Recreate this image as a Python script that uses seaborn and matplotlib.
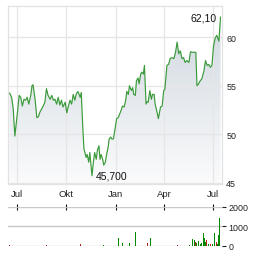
import numpy as np
import pandas as pd
import matplotlib
matplotlib.use("Agg")
import matplotlib.pyplot as plt
import matplotlib.dates as mdates
from matplotlib.colors import LinearSegmentedColormap
from matplotlib.patches import Polygon
import seaborn as sns

# ---- data (days counted from 2023-07-01) ----
price_day = [-14, -10, -7, -4, 1, 4, 7, 10, 13, 16, 19, 22, 26, 28, 30, 34, 37, 40, 43, 46,
             49, 52, 55, 58, 62, 65, 68, 71, 74, 77, 80, 83, 86, 90, 93, 96, 99, 102, 105, 108,
             111, 114, 118, 120, 123, 125, 129, 131, 134, 136, 138, 140, 143, 145, 148, 150, 153, 155, 157, 160,
             162, 165, 167, 170, 172, 175, 177, 180, 183, 186, 189, 194, 197, 200, 203, 205, 208, 210, 212, 214,
             216, 218, 221, 223, 226, 228, 231, 233, 236, 238, 241, 243, 245, 248, 251, 253, 256, 258, 261, 264,
             266, 268, 271, 274, 276, 280, 283, 286, 289, 293, 296, 299, 302, 305, 308, 311, 314, 317, 321, 324,
             327, 332, 334, 336, 339, 342, 345, 349, 352, 355, 358, 361, 364, 367, 370, 373, 377, 380]
price = [54.25, 53.8, 52.6, 49.8, 52.3, 54.0, 53.8, 52.9, 53.6, 53.5, 53.8, 53.1, 54.1, 55.0, 55.1, 53.5, 51.7, 51.8, 52.3, 52.6,
         52.9, 53.3, 54.7, 54.0, 53.6, 54.0, 53.5, 53.6, 53.1, 53.8, 53.0, 53.5, 52.8, 53.3, 52.2, 52.9, 53.5, 53.1, 54.1, 53.5,
         54.2, 54.4, 53.8, 54.3, 50.5, 48.5, 47.6, 47.9, 47.1, 48.1, 46.9, 45.7, 47.25, 48.1, 47.4, 48.3, 48.8, 47.4, 47.9, 47.4,
         46.8, 47.1, 47.8, 48.6, 49.5, 49.7, 49.5, 49.5, 50.5, 51.6, 51.7, 52.4, 52.9, 52.8, 53.5, 54.4, 54.1, 55.0, 54.7, 54.5,
         54.8, 54.1, 54.0, 55.5, 55.8, 55.2, 56.2, 56.4, 56.2, 57.1, 53.1, 53.35, 53.3, 54.5, 53.6, 54.1, 54.1, 53.1, 52.4, 51.6,
         52.2, 52.8, 52.9, 54.5, 54.6, 57.1, 57.2, 57.8, 57.9, 57.8, 58.45, 59.5, 58.3, 58.6, 57.8, 57.9, 57.4, 57.6, 57.4, 58.5,
         58.45, 58.45, 58.45, 55.0, 55.2, 55.5, 55.7, 56.5, 57.6, 57.1, 57.2, 56.9, 57.1, 59.1, 59.9, 60.2, 59.6, 62.1]

vol_day = [-14, 55, 119, 161, 189, 197, 210, 221, 243, 250, 299, 322, 328, 331, 333, 336, 339, 342,
           345, 348, 350, 352, 354, 357, 362, 365, 368, 372, 374, 376, 379]
volume = [50, 60, 100, 40, 400, 170, 170, 700, 140, 400, 40, 50, 350, 300, 220, 140, 260, 80,
          140, 640, 430, 200, 290, 80, 80, 120, 640, 200, 80, 550, 1400]
vol_up = [0, 0, 0, 1, 1, 1, 1, 1, 0, 1, 0, 1, 1, 1, 0, 1, 1, 1,
          1, 1, 1, 1, 0, 1, 0, 1, 1, 0, 1, 1, 1]

month_ticks = ["2023-07-01", "2023-10-01", "2024-01-01", "2024-04-01", "2024-07-01"]
month_labels = ["Jul", "Okt", "Jan", "Apr", "Jul"]
price_ticks = [45, 50, 55, 60]
vol_ticks = [0, 1000, 2000]
high_label = "62,10"
low_label = "45,700"

# ---- style ----
sns.set_theme(style="white")
plt.rcParams['font.family'] = ['Liberation Sans', 'DejaVu Sans']

fig = plt.figure(figsize=(2.64, 2.55), dpi=100)
W, H = 264, 255
ax = fig.add_axes([8 / W, 1 - 185 / H, 214 / W, 178 / H])
vax = fig.add_axes([8 / W, 1 - 247 / H, 214 / W, 39.5 / H])

start = pd.Timestamp("2023-07-01")
df = pd.DataFrame({"date": start + pd.to_timedelta(price_day, unit="D"), "price": price})
vdf = pd.DataFrame({"date": start + pd.to_timedelta(vol_day, unit="D"), "volume": volume, "up": vol_up})
x0 = start - pd.Timedelta(days=16.8)
x1 = start + pd.Timedelta(days=382.8)
ylo, yhi = 44.85, 63.23

line_color = "#3a9a3a"
sns.lineplot(data=df, x="date", y="price", ax=ax, color=line_color, linewidth=0.85, zorder=3)

# gradient fill under the line
n0, n1 = mdates.date2num(x0), mdates.date2num(x1)
cmap = LinearSegmentedColormap.from_list("fillgrad", ["#fbfbfc", "#cdd6de"])
grad = np.linspace(1, 0, 256).reshape(-1, 1)
im = ax.imshow(grad, cmap=cmap, vmin=0, vmax=1, aspect="auto",
               extent=[n0, n1, ylo, yhi], origin="upper", zorder=1)
xs = mdates.date2num(df["date"])
verts = np.column_stack([np.r_[xs[0], xs, xs[-1]], np.r_[ylo, df["price"].values, ylo]])
poly = Polygon(verts, closed=True, facecolor="none", edgecolor="none", transform=ax.transData)
ax.add_patch(poly)
im.set_clip_path(poly)

ax.set_xlim(x0, x1)
ax.set_ylim(ylo, yhi)
ax.set_xticks(pd.to_datetime(month_ticks))
ax.set_xticklabels([])
ax.set_yticks(price_ticks)
ax.yaxis.tick_right()
ax.tick_params(axis="y", length=0, pad=3, labelsize=6.4, labelcolor="#222222")
ax.tick_params(axis="x", length=0)
ax.grid(True, color="#e6e6e6", linewidth=0.9)
ax.set_axisbelow("line")
for s in ax.spines.values():
    s.set_color("#e2e2e2")
    s.set_linewidth(0.9)
ax.set_xlabel("")
ax.set_ylabel("")

ax.annotate(high_label, xy=(df["date"].iloc[-1], price[-1]), xytext=(-4, -0.5),
            textcoords="offset pixels", ha="right", va="center", fontsize=7.5, color="#111111")
imin = int(np.argmin(price))
ax.annotate(low_label, xy=(df["date"].iloc[imin], price[imin]), xytext=(4, 0),
            textcoords="offset pixels", ha="left", va="center", fontsize=7.5, color="#111111")

# volume panel
colors = ["#008a00" if u else "#b82020" for u in vdf["up"]]
vax.bar(vdf["date"], vdf["volume"], width=1.9, color=colors, linewidth=0, zorder=3, antialiased=False)
vax.set_xlim(x0, x1)
vax.set_ylim(0, 2000)
vax.set_yticks(vol_ticks)
vax.yaxis.tick_right()
vax.tick_params(axis="y", length=3, width=0.8, color="#222222", direction="out", pad=1.5,
                labelsize=6.4, labelcolor="#222222", right=True)
vax.set_xticks(pd.to_datetime(month_ticks))
vax.set_xticklabels(month_labels)
vax.xaxis.tick_top()
vax.tick_params(axis="x", top=True, bottom=False, direction="inout", length=4, width=0.8,
                color="#111111", labelsize=6.8, labelcolor="#222222", pad=4)
vax.grid(True, axis="y", color="#c8c8c8", linewidth=1.0)
vax.grid(False, axis="x")
vax.set_axisbelow(True)
for s in vax.spines.values():
    s.set_visible(False)
vax.set_facecolor("none")

fig.savefig("out.png", dpi=100)
